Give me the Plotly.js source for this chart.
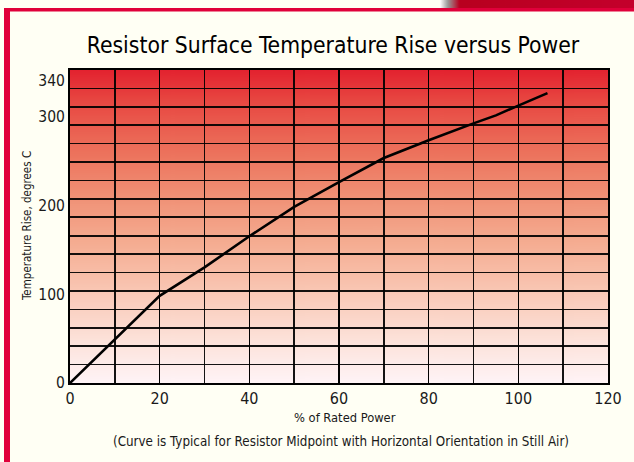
<!DOCTYPE html>
<html>
<head>
<meta charset="utf-8">
<script src="https://cdn.plot.ly/plotly-3.0.1.min.js"></script>
<style>
html,body{margin:0;padding:0;background:#FFFFF4;}
#chart{width:634px;height:462px;}
</style>
</head>
<body>
<div id="chart"></div>
<script>
// ---- data ----
var powerPct = [0, 20, 30, 40, 50, 60, 70, 80, 90, 95, 100, 106.5];
var tempRise = [0, 98, 130, 165, 198, 226, 253, 273, 292, 301, 312, 326];
var xTickVals = [0, 20, 40, 60, 80, 100, 120];
var yTickVals = [0, 100, 200, 300, 340];
var yTickText = ['0', '100', '200', '300', '340'];

var FONT = 'DejaVu Sans Condensed, Liberation Sans Narrow, Arial Narrow, sans-serif';

// plot area in pixels
var W = 634, H = 462;
var L = 70, R = 26, T = 70, B = 79;
var PW = W - L - R, PH = H - T - B;
function px(x){ return (x - L) / PW; }
function py(y){ return (H - B - y) / PH; }

// vertical red gradient for the plot area
function gradientImage(){
  var c = document.createElement('canvas');
  c.width = 8; c.height = 320;
  var g = c.getContext('2d');
  var gr = g.createLinearGradient(0, 0, 0, 320);
  gr.addColorStop(0.00, '#E3222F');
  gr.addColorStop(0.10, '#E84842');
  gr.addColorStop(0.25, '#EC6F5A');
  gr.addColorStop(0.40, '#F09075');
  gr.addColorStop(0.55, '#F5AC91');
  gr.addColorStop(0.70, '#F9C6B3');
  gr.addColorStop(0.85, '#FCE0D7');
  gr.addColorStop(1.00, '#FFF4F7');
  g.fillStyle = gr; g.fillRect(0, 0, 8, 320);
  return c.toDataURL('image/png');
}
function tabImage(){
  var c = document.createElement('canvas');
  c.width = 200; c.height = 8;
  var g = c.getContext('2d');
  var gr = g.createLinearGradient(0, 0, 200, 0);
  gr.addColorStop(0.00, 'rgba(255,255,255,1)');
  gr.addColorStop(0.04, '#9A9A9A');
  gr.addColorStop(0.10, '#B8001F');
  gr.addColorStop(1.00, '#C4002C');
  g.fillStyle = gr; g.fillRect(0, 0, 200, 8);
  return c.toDataURL('image/png');
}

var trace = {
  x: powerPct, y: tempRise, type: 'scatter', mode: 'lines',
  line: {color: '#000000', width: 2.6}, hoverinfo: 'skip', showlegend: false
};

var gridC = 'rgba(0,0,0,0.92)';
var layout = {
  width: W, height: H,
  paper_bgcolor: '#FFFFF4', plot_bgcolor: 'rgba(0,0,0,0)',
  margin: {l: L, r: R, t: T, b: B, pad: 0},
  font: {family: FONT, color: '#111111'},
  title: {text: 'Resistor Surface Temperature Rise versus Power',
          font: {family: FONT, size: 22.7, color: '#000000'},
          x: px(333), xanchor: 'center', y: 1 - 45 / H, yanchor: 'middle', xref: 'paper'},
  xaxis: {
    range: [0, 120], tickvals: xTickVals, ticks: '', ticklen: 0,
    showgrid: true, gridcolor: gridC, gridwidth: 1.6,
    minor: {tickmode: 'linear', tick0: 0, dtick: 10, showgrid: true, gridcolor: gridC, gridwidth: 1.6},
    showline: true, linecolor: '#000', linewidth: 2, mirror: true, zeroline: false,
    tickfont: {family: FONT, size: 16, color: '#1a1a1a'},
    fixedrange: true
  },
  yaxis: {
    range: [0, 352], tickmode: 'array', tickvals: yTickVals, ticktext: yTickText,
    ticks: '', ticklen: 0, showgrid: false,
    minor: {tickmode: 'linear', tick0: 0, dtick: 352 / 17, showgrid: true, gridcolor: gridC, gridwidth: 1.6},
    showline: true, linecolor: '#000', linewidth: 2, mirror: true, zeroline: false,
    tickfont: {family: FONT, size: 15.5, color: '#1a1a1a'},
    fixedrange: true
  },
  images: [
    {source: gradientImage(), xref: 'paper', yref: 'paper', x: 0, y: 1, sizex: 1, sizey: 1,
     sizing: 'stretch', xanchor: 'left', yanchor: 'top', layer: 'below'},
    {source: tabImage(), xref: 'paper', yref: 'paper', x: px(440), y: py(0), sizex: px(634) - px(440),
     sizey: py(0) - py(8), sizing: 'stretch', xanchor: 'left', yanchor: 'top', layer: 'above'}
  ],
  shapes: [
    {type: 'rect', xref: 'paper', yref: 'paper', x0: px(4), x1: px(10), y0: py(8), y1: py(462),
     fillcolor: '#E0003A', line: {width: 0}},
    {type: 'rect', xref: 'paper', yref: 'paper', x0: px(4), x1: px(634), y0: py(8), y1: py(11.5),
     fillcolor: '#E0003A', line: {width: 0}}
  ],
  annotations: [
    {text: 'Temperature Rise, degrees C', textangle: -90,
     xref: 'paper', yref: 'paper', x: px(27), y: py(226), xanchor: 'center', yanchor: 'middle',
     showarrow: false, font: {family: FONT, size: 11.5, color: '#1a1a1a'}},
    {text: '% of Rated Power',
     xref: 'paper', yref: 'paper', x: px(345), y: py(417), xanchor: 'center', yanchor: 'middle',
     showarrow: false, font: {family: FONT, size: 12.8, color: '#1a1a1a'}},
    {text: '(Curve is Typical for Resistor Midpoint with Horizontal Orientation in Still Air)',
     xref: 'paper', yref: 'paper', x: px(341), y: py(442), xanchor: 'center', yanchor: 'middle',
     showarrow: false, font: {family: FONT, size: 13.3, color: '#1a1a1a'}}
  ]
};

Plotly.newPlot('chart', [trace], layout, {displayModeBar: false, staticPlot: true});
</script>
</body>
</html>
